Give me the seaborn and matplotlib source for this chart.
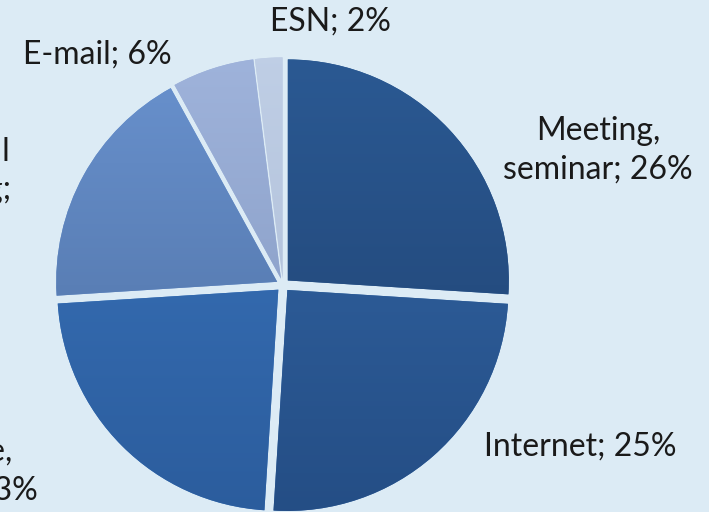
import matplotlib
matplotlib.use("Agg")
import matplotlib.pyplot as plt
import numpy as np
import seaborn as sns
from matplotlib.colors import LinearSegmentedColormap

categories = ["Meeting,\nseminar", "Internet", "Telephone,\nbrochure", "Informal\nmeeting;\n", "E-mail", "ESN"]
values = [26, 25, 23, 18, 6, 2]
top_colors = ["#2b5a94", "#3468a8", "#3b76bf", "#6a93d0", "#a0b4dc", "#c0cfe6"]
bottom_colors = ["#1f406e", "#244d84", "#2b5c9c", "#4a6b9c", "#7e94bc", "#a9b9d3"]

sns.set_theme(style="white")
plt.rcParams['font.family'] = ['Lato', 'DejaVu Sans']

fig = plt.figure(figsize=(7.09, 5.12), dpi=100)
fig.patch.set_facecolor("#dcebf5")
ax = fig.add_axes([0, 0, 1, 1])
ax.set_facecolor("#dcebf5")

wedges, _ = ax.pie(values, startangle=90, counterclock=False, radius=1.0,
                   explode=[0.03] * len(values),
                   colors=top_colors, wedgeprops=dict(linewidth=0))

# gradient fill clipped to each wedge
for w, c1, c2 in zip(wedges, top_colors, bottom_colors):
    cmap = LinearSegmentedColormap.from_list("g", [c2, c1])
    grad = np.linspace(0, 1, 256).reshape(-1, 1)
    im = ax.imshow(grad, cmap=cmap, origin="lower", extent=[-1.1, 1.1, -1.1, 1.1],
                   aspect="auto", zorder=w.get_zorder() + 0.1, interpolation="bilinear")
    im.set_clip_path(w)

ax.set_xlim(-283 / 221, (709 - 283) / 221)
ax.set_ylim(-227 / 221, 285 / 221)
ax.set_aspect("auto")
ax.axis("off")

labels = ["Meeting,\nseminar; 26%", "Internet; 25%", "Telephone,\nbrochure; 23%",
          "Informal\nmeeting;\n18%", "E-mail; 6%", "ESN; 2%"]
fs = 23
kw = dict(fontsize=fs, color="#1a1a1a", linespacing=1.35)
ax.text(1.425, 0.611, labels[0], ha="center", va="center", multialignment="center", **kw)
ax.text(1.344, -0.733, labels[1], ha="center", va="center", **kw)
ax.text(-1.109, -0.842, labels[2], ha="right", va="center", multialignment="center", **kw)
ax.text(-1.226, 0.43, labels[3], ha="right", va="center", multialignment="center", **kw)
ax.text(-0.842, 1.041, labels[4], ha="center", va="center", **kw)
ax.text(0.213, 1.190, labels[5], ha="center", va="center", **kw)

fig.savefig("out.png", dpi=100, facecolor=fig.get_facecolor())
